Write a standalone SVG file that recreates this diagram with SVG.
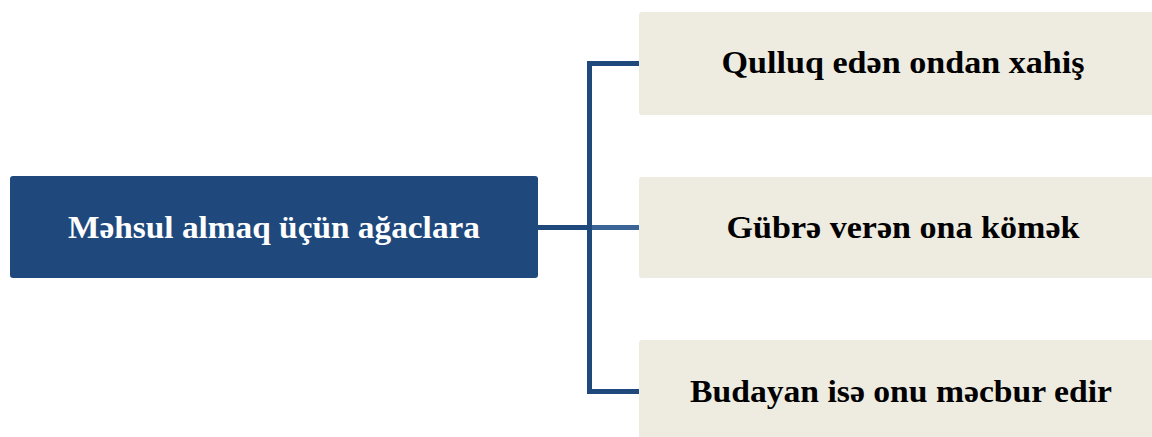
<svg xmlns="http://www.w3.org/2000/svg" width="1152" height="437" viewBox="0 0 1152 437">
<style>
.conn{fill:none;stroke:#1F497D;stroke-width:5;stroke-linejoin:miter}
.main{fill:#1F497D}
.leaf{fill:#EEECE1}
.t{font-family:"Liberation Serif","DejaVu Serif",serif;font-weight:bold;font-size:31px;text-anchor:middle}
.tw{fill:#FFFFFF}
.tb{fill:#000000}
</style>
<rect width="1152" height="437" fill="#FFFFFF"/>
<g id="connectors">
<path class="conn" d="M538,227.5 H589.5 M589.5,63.5 V391.5 M587,63.5 H639 M587,391.5 H639"/>
<path class="conn" style="stroke:#3B6597" d="M592,227.5 H639"/>
</g>
<g id="node-root">
<rect class="main" x="10" y="176" width="528" height="102" rx="3"/>
<text class="t tw" x="274" y="237.5" textLength="412" lengthAdjust="spacingAndGlyphs">Məhsul almaq üçün ağaclara</text>
</g>
<g id="node-1">
<rect class="leaf" x="639" y="12" width="530" height="103" rx="3"/>
<text class="t tb" x="903" y="73" textLength="363" lengthAdjust="spacingAndGlyphs">Qulluq edən ondan xahiş</text>
</g>
<g id="node-2">
<rect class="leaf" x="639" y="177" width="530" height="101" rx="3"/>
<text class="t tb" x="903" y="237.5" textLength="353" lengthAdjust="spacingAndGlyphs">Gübrə verən ona kömək</text>
</g>
<g id="node-3">
<rect class="leaf" x="639" y="340" width="530" height="103" rx="3"/>
<text class="t tb" x="901" y="401.5" textLength="422" lengthAdjust="spacingAndGlyphs">Budayan isə onu məcbur edir</text>
</g>
</svg>
